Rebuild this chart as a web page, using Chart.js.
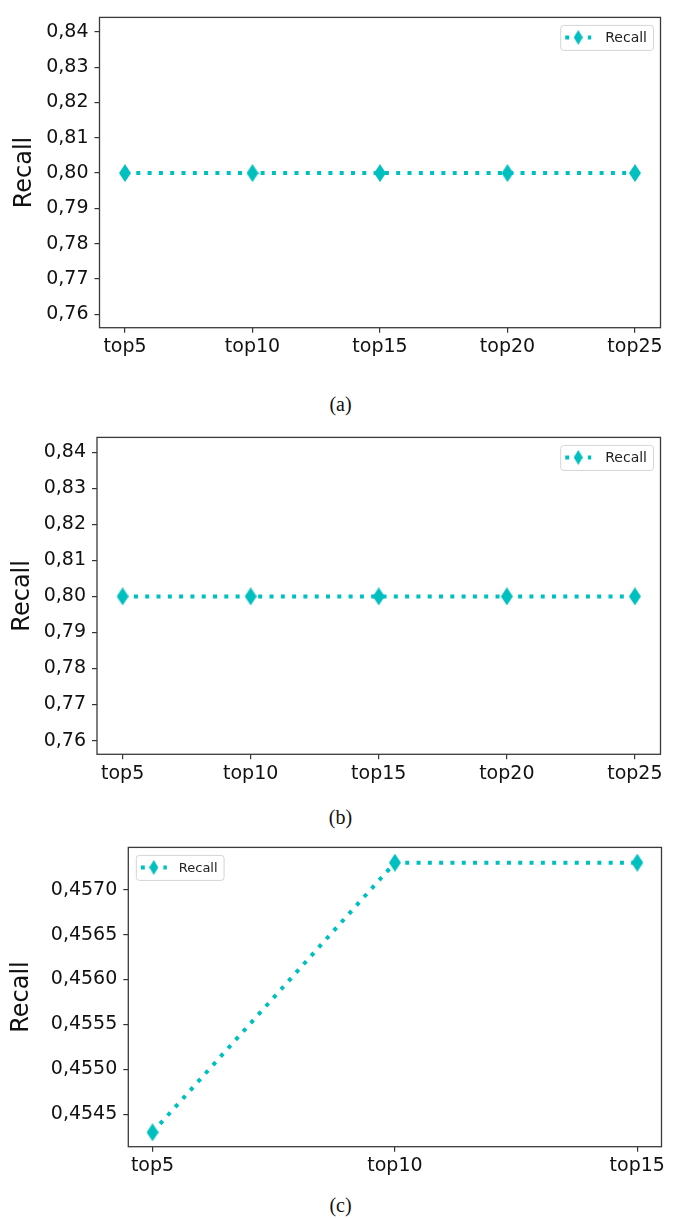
<!DOCTYPE html>
<html>
<head>
<meta charset="utf-8">
<script src="https://cdn.jsdelivr.net/npm/chart.js@4.4.1/dist/chart.umd.min.js"></script>
<style>
  body { margin: 0; background: #fff; width: 681px; height: 1218px; position: relative; overflow: hidden; }
  .panel { position: absolute; left: 0; }
  .cap { position: absolute; left: 0; width: 681px; text-align: center; font-family: "Liberation Serif", serif; font-size: 20px; line-height: 22px; color: #111; }
</style>
</head>
<body>
<div class="panel" style="top:0px"><canvas id="chartA" width="681" height="370"></canvas></div>
<div class="cap" style="top:393px">(a)</div>
<div class="panel" style="top:420px"><canvas id="chartB" width="681" height="370"></canvas></div>
<div class="cap" style="top:806px">(b)</div>
<div class="panel" style="top:830px"><canvas id="chartC" width="681" height="360"></canvas></div>
<div class="cap" style="top:1194px">(c)</div>

<script>
// data
var labelsAB = ['top5', 'top10', 'top15', 'top20', 'top25'];
var recallA = [0.80, 0.80, 0.80, 0.80, 0.80];
var recallB = [0.80, 0.80, 0.80, 0.80, 0.80];
var yTicksAB = [0.76, 0.77, 0.78, 0.79, 0.80, 0.81, 0.82, 0.83, 0.84];

var labelsC = ['top5', 'top10', 'top15'];
var recallC = [0.4543, 0.4573, 0.4573];
var yTicksC = [0.4545, 0.4550, 0.4555, 0.4560, 0.4565, 0.4570];

var TEAL = '#00BFBF';

// matplotlib-like thin diamond marker
function thinDiamond(w, h, color) {
    var c = document.createElement('canvas');
    c.width = w; c.height = h;
    var g = c.getContext('2d');
    g.fillStyle = color;
    g.beginPath();
    g.moveTo(w / 2, 0);
    g.lineTo(w, h / 2);
    g.lineTo(w / 2, h);
    g.lineTo(0, h / 2);
    g.closePath();
    g.fill();
    return c;
}
var marker = thinDiamond(12, 18, TEAL);
var legendMarker = thinDiamond(9, 15, TEAL);

// box around the axes + legend drawn inside the plot
var frameLegend = {
    id: 'frameLegend',
    afterDraw: function (chart, args, opts) {
        var ctx = chart.ctx, a = chart.chartArea;
        ctx.save();
        ctx.strokeStyle = '#3a3a3a';
        ctx.lineWidth = 1.3;
        ctx.strokeRect(a.left, a.top, a.right - a.left, a.bottom - a.top);

        var ds = chart.data.datasets[0];
        ctx.font = opts.fontSize + 'px "DejaVu Sans"';
        var tw = ctx.measureText(ds.label).width;
        var w = 5 + 26 + opts.gap + tw + 6, h = 25;
        var x0 = opts.side === 'right' ? a.right - opts.inset - w : a.left + opts.inset;
        var y0 = a.top + opts.inset;
        var cy = y0 + h / 2;

        ctx.fillStyle = 'rgba(255,255,255,0.85)';
        ctx.strokeStyle = '#d4d4d4';
        ctx.lineWidth = 1;
        ctx.beginPath();
        ctx.roundRect(x0 + 0.5, y0 + 0.5, w, h, 3);
        ctx.fill();
        ctx.stroke();

        ctx.setLineDash(ds.borderDash);
        ctx.lineWidth = ds.borderWidth;
        ctx.strokeStyle = ds.borderColor;
        ctx.beginPath();
        ctx.moveTo(x0 + 5, cy);
        ctx.lineTo(x0 + 31, cy);
        ctx.stroke();
        ctx.setLineDash([]);
        ctx.drawImage(legendMarker, x0 + 18 - legendMarker.width / 2, cy - legendMarker.height / 2);

        ctx.fillStyle = '#222';
        ctx.textBaseline = 'middle';
        ctx.fillText(ds.label, x0 + 31 + opts.gap, cy + 1);
        ctx.restore();
    }
};

function makeChart(id, cfg) {
    var ctx = document.getElementById(id).getContext('2d');
    return new Chart(ctx, {
        type: 'line',
        data: {
            datasets: [{
                label: 'Recall',
                data: cfg.values.map(function (v, i) { return { x: i, y: v }; }),
                borderColor: TEAL,
                borderWidth: 4,
                borderDash: [4, 7.3],
                borderCapStyle: 'butt',
                tension: 0,
                pointStyle: marker,
                pointRadius: 9,
                clip: false
            }]
        },
        options: {
            responsive: false,
            animation: false,
            events: [],
            layout: { padding: { top: cfg.top, right: 681 - cfg.right, left: 0, bottom: 0 } },
            scales: {
                x: {
                    type: 'linear',
                    min: cfg.xMin,
                    max: cfg.xMax,
                    afterBuildTicks: function (s) {
                        s.ticks = cfg.labels.map(function (_, i) { return { value: i }; });
                    },
                    afterFit: function (s) { s.height = cfg.height - cfg.bottom; },
                    grid: { drawOnChartArea: false, drawTicks: true, tickLength: 5, color: '#333', lineWidth: 1.2 },
                    border: { display: false },
                    ticks: {
                        padding: 3,
                        color: '#111',
                        autoSkip: false,
                        maxRotation: 0,
                        font: { family: 'DejaVu Sans', size: 19 },
                        callback: function (v) { return cfg.labels[v]; }
                    }
                },
                y: {
                    min: cfg.yMin,
                    max: cfg.yMax,
                    afterBuildTicks: function (s) {
                        s.ticks = cfg.yTicks.map(function (v) { return { value: v }; });
                    },
                    afterFit: function (s) { s.width = cfg.left; },
                    grid: { drawOnChartArea: false, drawTicks: true, tickLength: 5, color: '#333', lineWidth: 1.2 },
                    border: { display: false },
                    title: {
                        display: true,
                        text: 'Recall',
                        color: '#111',
                        font: { family: 'DejaVu Sans', size: 24 },
                        padding: { top: cfg.titlePad, bottom: 0 }
                    },
                    ticks: {
                        padding: 6,
                        color: '#111',
                        font: { family: 'DejaVu Sans', size: 19 },
                        callback: function (v) { return v.toFixed(cfg.decimals).replace('.', ','); }
                    }
                }
            },
            plugins: {
                legend: { display: false },
                tooltip: { enabled: false },
                frameLegend: { side: cfg.legendSide, inset: 7.5, fontSize: cfg.legendFont, gap: cfg.legendGap }
            }
        },
        plugins: [frameLegend]
    });
}

makeChart('chartA', {
    labels: labelsAB, values: recallA, yTicks: yTicksAB, decimals: 2,
    xMin: -0.2, xMax: 4.2, yMin: 0.7562, yMax: 0.8441,
    height: 370, top: 9.3, bottom: 327.7, left: 99.5, right: 660.5,
    titlePad: 10.5, legendSide: 'right', legendFont: 14, legendGap: 14
});

makeChart('chartB', {
    labels: labelsAB, values: recallB, yTicks: yTicksAB, decimals: 2,
    xMin: -0.2, xMax: 4.2, yMin: 0.7562, yMax: 0.8441,
    height: 370, top: 14.3, bottom: 334.3, left: 97, right: 660.5,
    titlePad: 8.5, legendSide: 'right', legendFont: 14, legendGap: 14
});

makeChart('chartC', {
    labels: labelsC, values: recallC, yTicks: yTicksC, decimals: 4,
    xMin: -0.1, xMax: 2.1, yMin: 0.45414, yMax: 0.45747,
    height: 360, top: 16.7, bottom: 316.7, left: 128.3, right: 661.5,
    titlePad: 7.5, legendSide: 'left', legendFont: 13, legendGap: 12
});
</script>
</body>
</html>
